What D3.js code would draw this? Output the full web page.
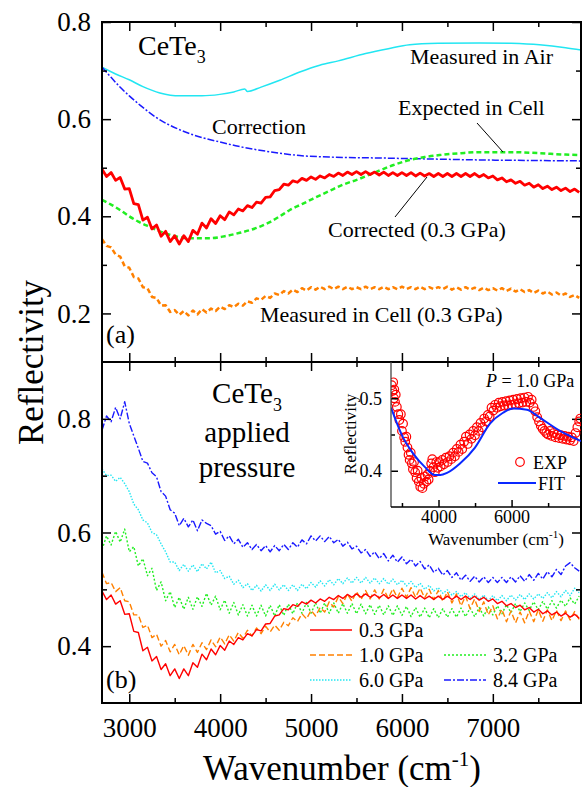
<!DOCTYPE html>
<html>
<head>
<meta charset="utf-8">
<script src="https://cdn.jsdelivr.net/npm/d3@7"></script>
<style>
body { margin: 0; background: #fff; }
text { font-family: "Liberation Serif", "Times New Roman", serif; fill: #000; }
</style>
</head>
<body>
<svg id="chart" width="582" height="787"></svg>
<script>
// wavenumber grid shared by the noisy spectra (cm-1, every 50)
const wnGrid = d3.range(2700, 8000, 50);

// panel (a): smooth curves as [wavenumber, reflectivity]
const airCurve = [[2700,.707],[2850,.693],[3000,.681],[3150,.667],[3337,.654],[3557,.648],[3800,.648],[3997,.651],
  [4150,.656],[4271,.662],[4300,.657],[4450,.666],[4656,.680],[4876,.697],[5096,.711],[5300,.720],[5600,.735],
  [5850,.745],[6085,.753],[6400,.756],[6854,.757],[7200,.756],[7513,.753],[7800,.747],[7975,.742]];
const correctionCurve = [[2700,.707],[2800,.686],[2898,.666],[3000,.648],[3118,.629],[3300,.603],[3557,.578],
  [3800,.562],[3997,.553],[4200,.544],[4436,.536],[4650,.530],[4876,.525],[5200,.522],[5755,.520],[6300,.518],
  [6854,.516],[7400,.515],[7975,.514]];
const expectedCurve = [[2700,.434],[2800,.424],[2898,.413],[3000,.400],[3100,.389],[3227,.378],[3350,.368],
  [3502,.359],[3650,.355],[3887,.355],[4050,.359],[4216,.366],[4400,.376],[4546,.388],[4656,.400],[4766,.413],
  [4900,.425],[5019,.436],[5200,.452],[5350,.465],[5502,.475],[5700,.490],[5900,.505],[6085,.516],[6250,.522],
  [6414,.526],[6650,.530],[6854,.532],[7217,.532],[7500,.530],[7800,.527],[7975,.526]];

// 0.3 GPa, corrected (used in both panels)
const r03 = [
  .497,.482,.490,.474,.480,.456,.457,.426,.424,.392,
  .398,.374,.382,.359,.369,.348,.360,.343,.360,.348,
  .371,.363,.386,.376,.395,.385,.401,.393,.409,.403,
  .415,.411,.422,.418,.429,.427,.439,.440,.453,.455,
  .466,.464,.473,.470,.478,.474,.481,.476,.483,.479,
  .486,.482,.489,.484,.491,.486,.492,.486,.492,.486,
  .491,.485,.491,.484,.490,.484,.490,.484,.490,.483,
  .489,.483,.488,.482,.488,.482,.488,.482,.488,.482,
  .488,.482,.488,.481,.486,.479,.483,.475,.479,.471,
  .475,.468,.472,.464,.468,.460,.465,.457,.462,.455,
  .460,.453,.458,.451,.456,.449];
// measured in cell, 0.3 GPa
const rCell03 = [
  .353,.339,.336,.321,.317,.297,.294,.275,.272,.254,
  .252,.234,.232,.216,.217,.203,.207,.197,.205,.196,
  .206,.198,.209,.202,.210,.205,.214,.209,.217,.213,
  .220,.216,.225,.222,.231,.228,.236,.232,.241,.238,
  .246,.241,.249,.244,.252,.247,.254,.249,.255,.250,
  .255,.250,.255,.250,.255,.250,.254,.250,.255,.250,
  .254,.250,.255,.250,.254,.250,.255,.250,.254,.250,
  .255,.250,.254,.250,.254,.250,.255,.249,.254,.249,
  .254,.249,.253,.248,.253,.248,.252,.247,.252,.246,
  .251,.245,.250,.244,.248,.242,.247,.241,.245,.239,
  .243,.237,.241,.234,.238,.232];

// panel (b): pressures
const r10 = [
  .530,.510,.512,.496,.503,.480,.478,.455,.455,.433,
  .437,.415,.421,.400,.410,.390,.403,.385,.401,.384,
  .403,.389,.406,.394,.411,.399,.416,.404,.420,.409,
  .424,.414,.428,.418,.432,.422,.435,.425,.437,.428,
  .442,.436,.450,.443,.457,.448,.463,.453,.468,.460,
  .478,.469,.487,.475,.492,.479,.496,.482,.498,.483,
  .499,.483,.500,.484,.501,.485,.502,.486,.503,.486,
  .502,.485,.500,.482,.498,.479,.496,.476,.492,.471,
  .488,.466,.483,.461,.478,.455,.471,.448,.465,.443,
  .462,.441,.460,.441,.462,.443,.464,.444,.464,.445,
  .463,.445,.462,.446,.461,.447];
const r32 = [
  .570,.594,.578,.602,.583,.606,.566,.575,.541,.554,
  .524,.537,.498,.513,.480,.496,.468,.486,.465,.486,
  .465,.487,.470,.493,.472,.488,.464,.481,.458,.477,
  .455,.473,.453,.472,.453,.472,.453,.472,.453,.473,
  .454,.474,.457,.476,.458,.477,.458,.476,.458,.476,
  .458,.476,.458,.475,.458,.475,.457,.474,.457,.473,
  .456,.472,.455,.471,.454,.471,.454,.470,.452,.468,
  .451,.467,.450,.466,.450,.466,.451,.466,.451,.467,
  .452,.467,.452,.468,.453,.469,.455,.471,.457,.473,
  .459,.475,.461,.476,.463,.478,.464,.479,.465,.480,
  .467,.481,.470,.485,.474,.488];
const r60 = [
  .712,.700,.701,.690,.697,.686,.672,.650,.640,.622,
  .617,.600,.596,.580,.566,.548,.548,.533,.544,.532,
  .543,.531,.545,.536,.548,.529,.533,.519,.523,.509,
  .516,.503,.510,.498,.507,.497,.508,.498,.509,.499,
  .508,.498,.508,.498,.509,.501,.512,.504,.515,.506,
  .517,.508,.519,.510,.520,.511,.521,.511,.521,.511,
  .520,.510,.519,.509,.518,.508,.516,.506,.514,.503,
  .511,.500,.507,.497,.503,.493,.499,.490,.496,.487,
  .494,.484,.492,.482,.490,.480,.489,.480,.489,.480,
  .490,.481,.491,.482,.492,.483,.492,.484,.494,.485,
  .496,.487,.498,.489,.502,.494];
const r84 = [
  .780,.805,.795,.820,.800,.830,.792,.770,.748,.725,
  .722,.705,.698,.672,.664,.640,.634,.612,.625,.610,
  .622,.603,.622,.616,.612,.597,.602,.586,.594,.580,
  .588,.574,.582,.570,.579,.568,.577,.566,.577,.568,
  .579,.570,.582,.574,.587,.580,.594,.585,.594,.584,
  .593,.582,.588,.576,.583,.571,.576,.564,.570,.558,
  .566,.554,.563,.550,.560,.548,.557,.545,.553,.541,
  .549,.536,.543,.530,.537,.525,.533,.521,.529,.516,
  .525,.514,.523,.513,.522,.512,.521,.512,.521,.512,
  .522,.513,.524,.514,.526,.516,.528,.518,.531,.522,
  .535,.526,.541,.547,.538,.532];

// inset, P = 1.0 GPa
const fitCurve = [[2700,.487],[3028,.446],[3302,.424],[3630,.405],[3900,.394],[4050,.394],[4233,.397],
  [4588,.410],[4999,.432],[5409,.465],[5765,.480],[6039,.486],[6422,.484],[6778,.473],[7325,.455],[7900,.441]];
const expPoints = [[2720,.518],[2740,.510],[2760,.522],[2780,.500],[2790,.512],[2810,.495],[2830,.505],
  [2860,.488],[2900,.478],[2930,.470],[2970,.478],[3000,.455],[3030,.465],[3060,.446],[3090,.440],[3120,.447],
  [3150,.432],[3180,.422],[3210,.415],[3240,.425],[3270,.410],[3300,.402],[3330,.412],[3360,.398],[3400,.390],
  [3430,.400],[3460,.385],[3500,.378],[3530,.390],[3560,.376],[3600,.382],[3630,.392],[3670,.385],[3700,.395],
  [3730,.388],[3770,.400],[3800,.410],[3830,.416],[3860,.405],[3900,.398],[3940,.412],[3980,.404],[4020,.412],
  [4060,.406],[4100,.415],[4150,.409],[4200,.418],[4250,.412],[4300,.420],[4350,.416],[4400,.425],[4450,.420],
  [4500,.430],[4550,.426],[4600,.436],[4650,.430],[4700,.440],[4750,.447],[4800,.437],[4850,.450],[4900,.444],
  [4950,.455],[5000,.449],[5050,.460],[5100,.455],[5150,.466],[5200,.460],[5250,.472],[5300,.468],[5350,.477],
  [5400,.475],[5450,.487],[5500,.483],[5550,.491],[5600,.487],[5650,.494],[5700,.489],[5750,.495],[5800,.490],
  [5850,.496],[5900,.490],[5950,.497],[6000,.491],[6050,.498],[6100,.492],[6150,.499],[6200,.493],[6250,.500],
  [6300,.494],[6350,.501],[6400,.495],[6450,.502],[6500,.494],[6550,.498],[6600,.488],[6650,.482],[6700,.474],
  [6750,.468],[6800,.462],[6850,.458],[6900,.455],[6950,.452],[7000,.450],[7050,.455],[7100,.448],[7150,.452],
  [7200,.446],[7250,.450],[7300,.445],[7350,.449],[7400,.444],[7450,.448],[7500,.443],[7550,.447],[7600,.442],
  [7650,.446],[7700,.441],[7750,.452],[7800,.460],[7850,.468],[7880,.472]];

// ticks
const xMajor = [3000, 4000, 5000, 6000, 7000];
const xMinor = [3500, 4500, 5500, 6500, 7500];
const yMajorA = [0.2, 0.4, 0.6, 0.8], yMinorA = [0.3, 0.5, 0.7];
const yMajorB = [0.4, 0.6, 0.8], yMinorB = [0.5, 0.7];
const legendB = [
  { label: "0.3 GPa", data: r03, color: "#ff0000", dash: null, col: 0, row: 0 },
  { label: "1.0 GPa", data: r10, color: "#ff8000", dash: "6,3", col: 0, row: 1 },
  { label: "3.2 GPa", data: r32, color: "#22ee22", dash: "2,2", col: 1, row: 1 },
  { label: "6.0 GPa", data: r60, color: "#22e6f2", dash: "1.5,1.5", col: 0, row: 2 },
  { label: "8.4 GPa", data: r84, color: "#1a1aff", dash: "7,2,2,2", col: 1, row: 2 }
];

const svg = d3.select("#chart");
const L = 102, R = 581, topA = 22, mid = 362, bot = 703;

const x = d3.scaleLinear().domain([2700, 7970]).range([L, R]);
const yA = d3.scaleLinear().domain([0.1, 0.8]).range([mid, topA]);
const yB = d3.scaleLinear().domain([0.3, 0.9]).range([bot, mid]);

const defs = svg.append("defs");
defs.append("clipPath").attr("id", "clipA").append("rect")
    .attr("x", L).attr("y", topA).attr("width", R - L).attr("height", mid - topA);
defs.append("clipPath").attr("id", "clipB").append("rect")
    .attr("x", L).attr("y", mid).attr("width", R - L).attr("height", bot - mid);

const gridPts = arr => arr.map((v, i) => [wnGrid[i], v]).filter(d => d[0] != null);

function drawLine(g, pts, yScale, color, width, dash, curve) {
    const line = d3.line().x(d => x(d[0])).y(d => yScale(d[1])).curve(curve || d3.curveLinear);
    g.append("path")
        .datum(pts)
        .attr("fill", "none")
        .attr("stroke", color)
        .attr("stroke-width", width)
        .attr("stroke-dasharray", dash)
        .attr("stroke-linejoin", "round")
        .attr("d", line);
}

// panel (a) curves
const gA = svg.append("g").attr("clip-path", "url(#clipA)");
drawLine(gA, airCurve, yA, "#22e6f2", 1.5, null, d3.curveMonotoneX);
drawLine(gA, correctionCurve, yA, "#1a1aff", 1.5, "7,2,2,2", d3.curveMonotoneX);
drawLine(gA, expectedCurve, yA, "#22ee22", 2.5, "5,3", d3.curveMonotoneX);
drawLine(gA, gridPts(rCell03), yA, "#ff8000", 2.5, "5,3");
drawLine(gA, gridPts(r03), yA, "#ff0000", 2.8, null);

// panel (b) curves
const gB = svg.append("g").attr("clip-path", "url(#clipB)");
legendB.slice().reverse().forEach(s => drawLine(gB, gridPts(s.data), yB, s.color, 1.4, s.dash));

// axes
function styleAxis(sel, fontSize) {
    sel.select(".domain").remove();
    sel.selectAll(".tick line").attr("stroke", "#000").attr("stroke-width", 1.5);
    sel.selectAll("text").attr("font-size", fontSize).attr("fill", "#000")
        .style("font-family", '"Liberation Serif", serif');
}
function addAxis(axis, tx, ty, fontSize) {
    svg.append("g").attr("transform", `translate(${tx},${ty})`).call(axis).call(styleAxis, fontSize || 27);
}
const noLab = "";
[[topA, d3.axisTop], [mid, d3.axisBottom]].forEach(([yy, fn]) => {
    addAxis(fn(x).tickValues(xMajor).tickSize(-9).tickFormat(noLab), 0, yy);
    addAxis(fn(x).tickValues(xMinor).tickSize(-5).tickFormat(noLab), 0, yy);
});
addAxis(d3.axisTop(x).tickValues(xMajor).tickSize(-9).tickFormat(noLab), 0, mid);
addAxis(d3.axisTop(x).tickValues(xMinor).tickSize(-5).tickFormat(noLab), 0, mid);
addAxis(d3.axisBottom(x).tickValues(xMajor).tickSize(-9).tickPadding(15).tickFormat(d3.format("d")), 0, bot);
addAxis(d3.axisBottom(x).tickValues(xMinor).tickSize(-5).tickFormat(noLab), 0, bot);

[[yA, yMajorA, yMinorA], [yB, yMajorB, yMinorB]].forEach(([ys, maj, mnr]) => {
    addAxis(d3.axisLeft(ys).tickValues(maj).tickSize(-9).tickPadding(11).tickFormat(d3.format(".1f")), L, 0);
    addAxis(d3.axisLeft(ys).tickValues(mnr).tickSize(-5).tickFormat(noLab), L, 0);
    addAxis(d3.axisRight(ys).tickValues(maj).tickSize(-9).tickFormat(noLab), R, 0);
    addAxis(d3.axisRight(ys).tickValues(mnr).tickSize(-5).tickFormat(noLab), R, 0);
});

// frame
svg.append("rect").attr("x", L).attr("y", topA).attr("width", R - L).attr("height", bot - topA)
    .attr("fill", "none").attr("stroke", "#000").attr("stroke-width", 2);
svg.append("line").attr("x1", L).attr("x2", R).attr("y1", mid).attr("y2", mid)
    .attr("stroke", "#000").attr("stroke-width", 2);

// axis titles
svg.append("text")
    .attr("transform", `translate(43,${(topA + bot) / 2}) rotate(-90)`)
    .attr("text-anchor", "middle").attr("font-size", 35)
    .text("Reflectivity");
const xt = svg.append("text").attr("x", 342).attr("y", 780).attr("text-anchor", "middle").attr("font-size", 35);
xt.append("tspan").text("Wavenumber (cm");
xt.append("tspan").attr("font-size", 21).attr("dy", -14).text("-1");
xt.append("tspan").attr("dy", 14).text(")");

// panel (a) annotations
function sub(sel, main, s, size) {
    sel.append("tspan").text(main);
    sel.append("tspan").attr("font-size", size).attr("dy", 8).text(s);
}
sub(svg.append("text").attr("x", 138).attr("y", 55).attr("font-size", 28), "CeTe", "3", 18);
const ann = [
    ["Measured in Air", 410, 64],
    ["Correction", 212, 134],
    ["Expected in Cell", 398, 115],
    ["Corrected (0.3 GPa)", 328, 237],
    ["Measured in Cell (0.3 GPa)", 260, 322]
];
ann.forEach(([t, ax, ay]) => svg.append("text").attr("x", ax).attr("y", ay).attr("font-size", 22).text(t));
[[477, 123, 503, 152], [395, 217, 427, 177]].forEach(([x1, y1, x2, y2]) =>
    svg.append("line").attr("x1", x1).attr("y1", y1).attr("x2", x2).attr("y2", y2)
        .attr("stroke", "#000").attr("stroke-width", 1));
svg.append("text").attr("x", 106).attr("y", 343).attr("font-size", 26).text("(a)");
svg.append("text").attr("x", 106).attr("y", 688).attr("font-size", 26).text("(b)");

// panel (b) annotations
sub(svg.append("text").attr("x", 247).attr("y", 403).attr("text-anchor", "middle").attr("font-size", 29), "CeTe", "3", 18);
svg.append("text").attr("x", 247).attr("y", 442).attr("text-anchor", "middle").attr("font-size", 29).text("applied");
svg.append("text").attr("x", 247).attr("y", 477).attr("text-anchor", "middle").attr("font-size", 29).text("pressure");

// legend (b)
const legX = [310, 444], legY = [630, 655, 680];
legendB.forEach(s => {
    const lx = legX[s.col], ly = legY[s.row];
    svg.append("line").attr("x1", lx).attr("x2", lx + 42).attr("y1", ly).attr("y2", ly)
        .attr("stroke", s.color).attr("stroke-width", 1.4).attr("stroke-dasharray", s.dash);
    svg.append("text").attr("x", lx + 49).attr("y", ly + 7).attr("font-size", 20).text(s.label);
});

// inset
const xi = d3.scaleLinear().domain([2700, 7900]).range([391, R]);
const yi = d3.scaleLinear().domain([0.35, 0.55]).range([507, mid]);
defs.append("clipPath").attr("id", "clipI").append("rect")
    .attr("x", 391).attr("y", mid).attr("width", R - 391).attr("height", 507 - mid);
const gI = svg.append("g").attr("clip-path", "url(#clipI)");
gI.selectAll("circle.exp").data(expPoints).enter().append("circle")
    .attr("class", "exp")
    .attr("cx", d => xi(d[0])).attr("cy", d => yi(d[1])).attr("r", 4.3)
    .attr("fill", "none").attr("stroke", "#ff0000").attr("stroke-width", 1.2);
gI.append("path").datum(fitCurve)
    .attr("fill", "none").attr("stroke", "#0a28ff").attr("stroke-width", 2)
    .attr("d", d3.line().x(d => xi(d[0])).y(d => yi(d[1])).curve(d3.curveMonotoneX));

addAxis(d3.axisBottom(xi).tickValues([4000, 6000]).tickSize(-7).tickPadding(3).tickFormat(d3.format("d")), 0, 507, 18);
addAxis(d3.axisBottom(xi).tickValues([3000, 5000, 7000]).tickSize(-4).tickFormat(noLab), 0, 507, 18);
addAxis(d3.axisLeft(yi).tickValues([0.4, 0.5]).tickSize(-7).tickPadding(9).tickFormat(d3.format(".1f")), 391, 0, 18);
addAxis(d3.axisLeft(yi).tickValues([0.45]).tickSize(-4).tickFormat(noLab), 391, 0, 18);
svg.append("line").attr("x1", 391).attr("x2", 391).attr("y1", mid).attr("y2", 507)
    .attr("stroke", "#444").attr("stroke-width", 1.3);
svg.append("line").attr("x1", 391).attr("x2", R).attr("y1", 507).attr("y2", 507)
    .attr("stroke", "#000").attr("stroke-width", 1.5);

svg.append("text").attr("transform", "translate(356,434) rotate(-90)")
    .attr("text-anchor", "middle").attr("font-size", 17).text("Reflectivity");
const xit = svg.append("text").attr("x", 496).attr("y", 545).attr("text-anchor", "middle").attr("font-size", 17);
xit.append("tspan").text("Wavenumber (cm");
xit.append("tspan").attr("font-size", 11).attr("dy", -7).text("-1");
xit.append("tspan").attr("dy", 7).text(")");

const pt = svg.append("text").attr("x", 486).attr("y", 387).attr("font-size", 18);
pt.append("tspan").attr("font-style", "italic").text("P");
pt.append("tspan").text(" = 1.0 GPa");

svg.append("circle").attr("cx", 520).attr("cy", 462).attr("r", 4.3)
    .attr("fill", "none").attr("stroke", "#ff0000").attr("stroke-width", 1.2);
svg.append("text").attr("x", 533).attr("y", 469).attr("font-size", 18).text("EXP");
svg.append("line").attr("x1", 498).attr("x2", 536).attr("y1", 483).attr("y2", 483)
    .attr("stroke", "#0a28ff").attr("stroke-width", 2);
svg.append("text").attr("x", 538).attr("y", 490).attr("font-size", 18).text("FIT");
</script>
</body>
</html>
